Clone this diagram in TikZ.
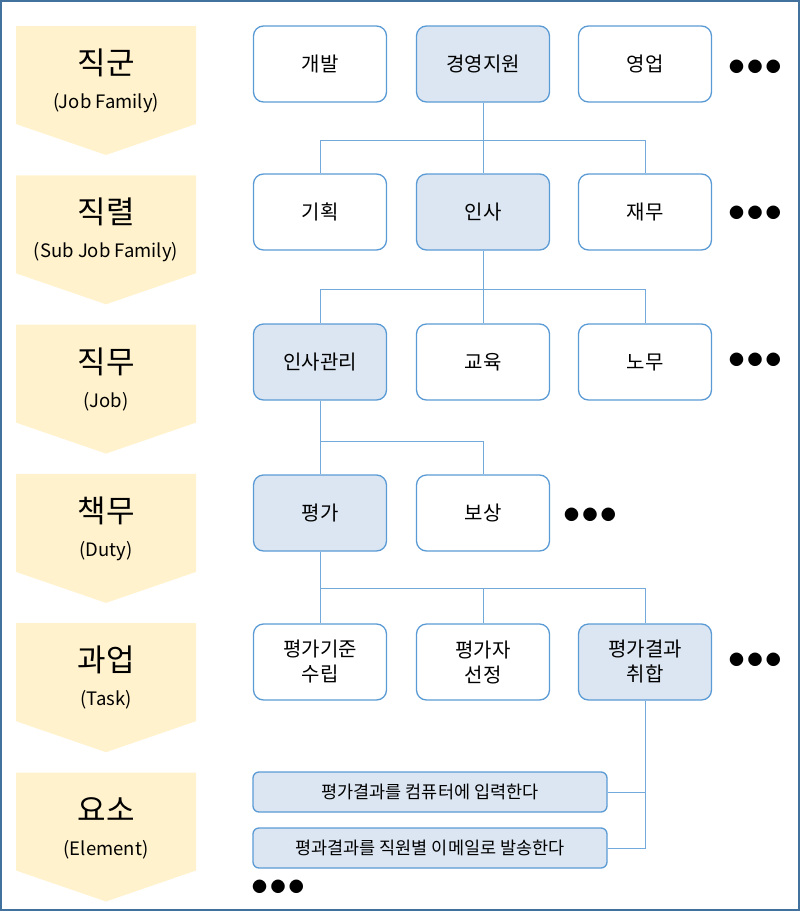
\documentclass[tikz,border=0pt]{standalone}
\usepackage{fontspec}
\setmainfont{Noto Sans CJK KR}
\begin{document}
\begin{tikzpicture}[x=1pt,y=-1pt,
 box/.style={draw=boxb,line width=1.3pt,rounded corners=10pt,fill=white,minimum width=133pt,minimum height=76pt,align=center,font=\fontsize{20}{25}\selectfont,inner sep=0pt},
 sel/.style={box,fill=selfill},
 el/.style={draw=boxb,line width=1.3pt,rounded corners=6pt,fill=selfill,minimum width=354pt,minimum height=40pt,font=\fontsize{17.5}{20}\selectfont,inner sep=0pt},
 ln/.style={draw=boxb!85,line width=0.8pt},
 dots/.style={font=\fontsize{15}{15}\selectfont,inner sep=0pt},
 lbl/.style={align=center,inner sep=0pt}]
\definecolor{boxb}{HTML}{5B9BD5}
\definecolor{selfill}{HTML}{DCE6F2}
\definecolor{chev}{HTML}{FFF2CC}
\definecolor{frame}{HTML}{41719C}
\useasboundingbox (0,0) rectangle (800,911);
\draw[frame,line width=2pt] (1,1) rectangle (799,910);
\foreach \t/\b [count=\i from 0] in {직군/(Job Family),직렬/(Sub Job Family),직무/(Job),책무/(Duty),과업/(Task),요소/(Element)}{
 \pgfmathsetmacro\y{26+149.3*\i}
 \fill[chev] (16,\y) -- (196,\y) -- (196,\y+98) -- (106,\y+129) -- (16,\y+98) -- cycle;
 \node[lbl,font=\fontsize{31}{34}\selectfont] (t\i) at (106,\y+37) {\t};
 \node[lbl,font=\fontsize{18.5}{22}\selectfont] (s\i) at (106,\y+77) {\b};
}
% row 1
\node[box] (a1) at (320,64) {개발};
\node[sel] (a2) at (483,64) {경영지원};
\node[box] (a3) at (645,64) {영업};
\node[dots] (d1) at (755,67) {● ● ●};
% row 2
\node[box] (b1) at (320,212) {기획};
\node[sel] (b2) at (483,212) {인사};
\node[box] (b3) at (645,212) {재무};
\node[dots] (d2) at (755,213) {● ● ●};
% row 3
\node[sel] (c1) at (320,362) {인사관리};
\node[box] (c2) at (483,362) {교육};
\node[box] (c3) at (645,362) {노무};
\node[dots] (d3) at (755,360) {● ● ●};
% row 4
\node[sel] (e1) at (320,513) {평가};
\node[box] (e2) at (483,513) {보상};
\node[dots] (d4) at (590,515) {● ● ●};
% row 5
\node[box] (f1) at (320,662) {평가기준\\수립};
\node[box] (f2) at (483,662) {평가자\\선정};
\node[sel] (f3) at (645,662) {평가결과\\취합};
\node[dots] (d5) at (755,660) {● ● ●};
% elements
\node[el] (g1) at (430,792) {평가결과를 컴퓨터에 입력한다};
\node[el] (g2) at (430,848) {평과결과를 직원별 이메일로 발송한다};
\node[dots] (d6) at (278,887) {● ● ●};
% connectors
\draw[ln] (a2.south) -- (483,140) -| (b1.north) (483,140) -| (b3.north) (483,140) -- (b2.north);
\draw[ln] (b2.south) -- (483,289) -| (c1.north) (483,289) -| (c3.north) (483,289) -- (c2.north);
\draw[ln] (c1.south) -- (e1.north) (320,441) -| (e2.north);
\draw[ln] (e1.south) -- (f1.north) (320,588) -| (f3.north) (483,588) -- (f2.north);
\draw[ln] (f3.south) |- (g2.east) (645,792) -- (g1.east);
\end{tikzpicture}
\end{document}
